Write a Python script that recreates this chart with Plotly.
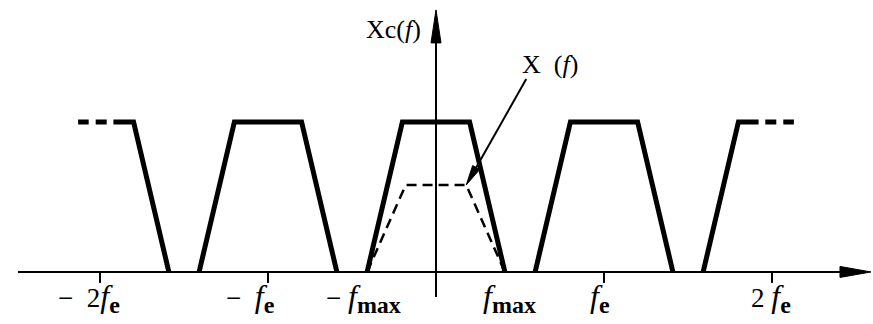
import plotly.graph_objects as go

# ---- spectrum description -------------------------------------------------
fe = 1.0                 # sampling frequency (one unit)
fmax = 0.41              # highest frequency of the baseband spectrum
orders = [-2, -1, 0, 1, 2]          # replicas k*fe of the sampled spectrum

# baseband trapezoid X(f): corner frequencies and levels
x_shape_f = [-fmax, -0.18, 0.18, fmax]
x_shape_a = [0.0, 0.58, 0.58, 0.0]

# one replica of Xc(f): corner frequencies (relative to k*fe) and levels
xc_shape_f = [-fmax, -0.20, 0.20, fmax]
xc_shape_a = [0.0, 1.0, 1.0, 0.0]

# outer replicas are cut short: solid top run, then a dashed continuation
outer_solid = 0.12
outer_dash_gap = 0.04
outer_dash_len = 0.17

NB = "\u00a0"


def freq(name):
    """Large italic f with a heavy subscript."""
    return ('<i><span style="font-size:32px">f</span></i><sub><b>'
            '<span style="font-size:24px">' + name + '</span></b></sub>')


tick_orders = [-2, -1, 1, 2]
tick_labels = ["−" + NB * 2 + "2" + freq("e"), "−" + NB * 2 + freq("e"),
               freq("e"), "2" + NB + freq("e")]
fmax_labels = ["−" + NB + freq("max"), freq("max")]

# ---- styling ---------------------------------------------------------------
INK = "black"
SERIF = "Liberation Serif, Times New Roman, serif"
TICK_FONT = dict(family=SERIF, size=27, color=INK)
NAME_FONT = dict(family=SERIF, size=26, color=INK)
X_RANGE = [-2.595, 2.601]
Y_RANGE = [-0.347, 1.813]
AXIS_LEFT = -2.488
AXIS_TIP_X = 2.589
AXIS_BOTTOM = -0.167
AXIS_TIP_Y = 1.747

fig = go.Figure()

# Xc(f): periodic replicas of the baseband spectrum
for k in orders:
    c = k * fe
    fx = [c + v for v in xc_shape_f]
    fy = list(xc_shape_a)
    if k == orders[0]:
        # keep only the right flank, continue to the left with dashes
        top = fx[2]
        fx = [top - outer_solid, top, fx[3]]
        fy = [fy[2], fy[2], fy[3]]
        start = top - outer_solid - outer_dash_gap
        fig.add_trace(go.Scatter(x=[start, start - outer_dash_len], y=[fy[0], fy[0]],
                                 mode="lines", line=dict(color=INK, width=5, dash="11px,7px"),
                                 hoverinfo="skip"))
    elif k == orders[-1]:
        top = fx[1]
        fx = [fx[0], top, top + outer_solid]
        fy = [fy[0], fy[1], fy[1]]
        start = top + outer_solid + outer_dash_gap
        fig.add_trace(go.Scatter(x=[start, start + outer_dash_len], y=[fy[1], fy[1]],
                                 mode="lines", line=dict(color=INK, width=5, dash="11px,7px"),
                                 hoverinfo="skip"))
    fig.add_trace(go.Scatter(x=fx, y=fy, mode="lines",
                             line=dict(color=INK, width=5), hoverinfo="skip"))

# X(f): baseband spectrum, dashed
fig.add_trace(go.Scatter(x=x_shape_f, y=x_shape_a, mode="lines",
                         line=dict(color=INK, width=2.5, dash="10px,6px"),
                         hoverinfo="skip"))

shapes = []
# frequency axis and amplitude axis
shapes.append(dict(type="line", x0=AXIS_LEFT, x1=AXIS_TIP_X - 0.1, y0=0, y1=0,
                   line=dict(color=INK, width=2)))
shapes.append(dict(type="line", x0=0, x1=0, y0=AXIS_BOTTOM, y1=AXIS_TIP_Y - 0.1,
                   line=dict(color=INK, width=2)))
# arrow heads of the axes
shapes.append(dict(type="path", xsizemode="pixel", ysizemode="pixel",
                   xanchor=AXIS_TIP_X, yanchor=0,
                   path="M0,0 L-31,5.5 L-31,-5.5 Z", fillcolor=INK,
                   line=dict(color=INK, width=1)))
shapes.append(dict(type="path", xsizemode="pixel", ysizemode="pixel",
                   xanchor=0, yanchor=AXIS_TIP_Y,
                   path="M0,0 L-5,-33 L5,-33 Z", fillcolor=INK,
                   line=dict(color=INK, width=1)))
# tick marks at multiples of fe
for k in tick_orders:
    shapes.append(dict(type="line", ysizemode="pixel", yanchor=0, y0=0, y1=-11,
                       x0=k * fe, x1=k * fe, line=dict(color=INK, width=2)))
# pointer to the X(f) curve
corner_x, corner_y = x_shape_f[2], x_shape_a[2]
shapes.append(dict(type="line", xsizemode="pixel", ysizemode="pixel",
                   xanchor=corner_x, yanchor=corner_y,
                   x0=8, y0=14, x1=60, y1=106, line=dict(color=INK, width=2)))
shapes.append(dict(type="path", xsizemode="pixel", ysizemode="pixel",
                   xanchor=corner_x, yanchor=corner_y,
                   path="M0,0 L6.4,19.4 L13.4,15.4 Z", fillcolor=INK,
                   line=dict(color=INK, width=1)))

annotations = []
label_nudge = {-2: -11, -1: -17, 1: -4, 2: -1}
for k, txt in zip(tick_orders, tick_labels):
    annotations.append(dict(x=k * fe, y=0, text=txt, showarrow=False, font=TICK_FONT,
                            xanchor="center", yanchor="top",
                            xshift=label_nudge[k], yshift=-4))
for sign, txt in zip([-1, 1], fmax_labels):
    annotations.append(dict(x=sign * fmax, y=0, text=txt, showarrow=False, font=TICK_FONT,
                            xanchor="center", yanchor="top",
                            xshift=-4 if sign < 0 else 5, yshift=-4))
annotations.append(dict(x=0, y=AXIS_TIP_Y, text="Xc(<i>f</i>)", showarrow=False,
                        font=NAME_FONT, xanchor="right", yanchor="middle",
                        xshift=-13, yshift=-20))
annotations.append(dict(x=corner_x, y=corner_y, text="X" + NB + " (<i>f</i>)", showarrow=False,
                        font=NAME_FONT, xanchor="left", yanchor="bottom",
                        xshift=54, yshift=104))

fig.update_layout(
    width=873, height=324,
    margin=dict(l=0, r=0, t=0, b=0),
    paper_bgcolor="white", plot_bgcolor="white",
    showlegend=False,
    xaxis=dict(visible=False, range=X_RANGE, fixedrange=True),
    yaxis=dict(visible=False, range=Y_RANGE, fixedrange=True),
    shapes=shapes, annotations=annotations,
)

fig.write_html("out.html")
